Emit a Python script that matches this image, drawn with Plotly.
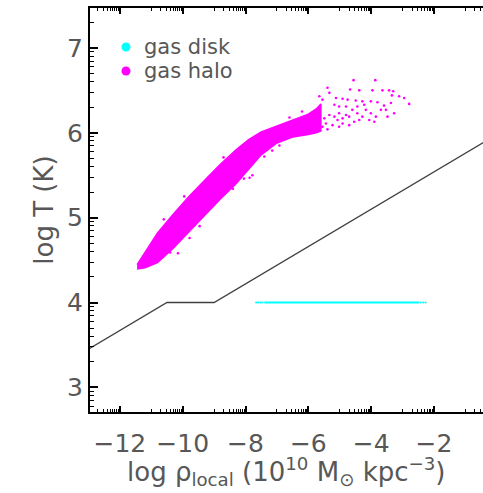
import numpy as np
import plotly.graph_objects as go

# Temperature-density relation: hot halo gas band (envelope), its sparse high-density tail,
# the disk gas sitting at the 10^4 K floor, and the star-formation threshold line.

# dense part of the halo band: log rho, upper / lower log T edge
band_logrho = [-11.45, -11.2, -10.8, -10.3, -9.8, -9.3, -8.8, -8.3, -7.9, -7.5, -7.0, -6.5, -6.0, -5.75, -5.6]
band_logT_hi = [4.445, 4.59, 4.82, 5.04, 5.25, 5.44, 5.63, 5.80, 5.92, 6.01, 6.08, 6.15, 6.22, 6.28, 6.34]
band_logT_lo = [4.395, 4.41, 4.47, 4.64, 4.83, 5.03, 5.22, 5.40, 5.57, 5.74, 5.88, 5.95, 5.98, 6.00, 6.02]

# stray halo particles just outside the band edges
edge_logrho = [-9.78, -9.46, -10.15, -7.87, -7.78, -7.40, -6.92, -7.15, -8.05,
               -10.60, -9.95, -8.70, -11.05, -6.60, -6.20, -9.20, -8.40, -10.40]
edge_logT = [4.76, 4.90, 4.58, 5.47, 5.50, 5.72, 5.85, 5.79, 5.46,
             4.98, 5.25, 5.71, 4.48, 6.18, 6.25, 5.46, 5.34, 4.59]

# individual halo particles in the sparse high-density tail
tail_logrho = [-4.56, -3.87, -5.39, -4.67, -4.38, -3.96, -3.64, -3.43, -3.30, -5.33,
               -3.34, -3.11, -2.95, -2.79, -5.65, -5.55, -5.12, -4.91, -4.75, -4.49,
               -4.28, -4.01, -3.80, -3.59, -3.69, -3.53, -3.27, -3.48, -3.85, -4.01,
               -4.17, -4.28, -4.06, -3.90, -4.44, -4.60, -4.80, -5.02, -5.17, -4.70,
               -4.54, -4.70, -4.91, -5.07, -5.23, -5.39, -5.02, -4.38, -4.80, -5.02,
               -5.33, -5.49, -5.55, -5.44, -5.65, -5.17, -4.91, -4.22, -4.44, -3.37]
tail_logT = [6.62, 6.62, 6.53, 6.51, 6.50, 6.50, 6.50, 6.50, 6.49, 6.47,
             6.44, 6.43, 6.41, 6.34, 6.43, 6.39, 6.41, 6.40, 6.39, 6.38,
             6.37, 6.37, 6.36, 6.32, 6.27, 6.27, 6.23, 6.19, 6.19, 6.23,
             6.27, 6.19, 6.15, 6.13, 6.23, 6.27, 6.31, 6.31, 6.33, 6.19,
             6.13, 6.09, 6.11, 6.15, 6.09, 6.04, 6.07, 6.15, 6.21, 6.23,
             6.21, 6.17, 6.07, 6.11, 6.15, 6.19, 6.17, 6.33, 6.31, 6.35]

# disk gas at the temperature floor
disk_logrho_run = [-7.40, -2.48]
disk_logrho_pts = [-7.66, -7.60, -7.53, -7.47, -2.42, -2.34, -2.27]
disk_logT = 4.0

# threshold line vertices
thr_logrho = [-13.0, -10.5, -9.0, 0.0]
thr_logT = [3.45, 4.0, 4.0, 5.98]

# axis ranges and tick values
x_range = [-12.95, -0.44]
y_range = [2.71, 7.47]
x_major = [-12, -10, -8, -6, -4, -2]
x_major_text = ["\u221212", "\u221210", "\u22128", "\u22126", "\u22124", "\u22122"]
y_major = [3, 4, 5, 6, 7]

legend_names = ["gas disk", "gas halo"]
x_title = "log \u03c1<sub>local</sub> (10<sup>10</sup> M<sub>\u2299</sub> kpc<sup>\u22123</sup>)"
y_title = "log T (K)"

MAG = "#FF00FF"
CYA = "#00FFFF"
TXT = "#575757"
FONT = "DejaVu Sans"

x_minor = [o + np.log10(k) for o in range(-15, 2, 2) for k in range(1, 10)]
x_minor = [v for v in x_minor if x_range[0] < v < x_range[1] and v not in x_major]
y_minor = [n + np.log10(k) for n in range(2, 8) for k in range(2, 10)]
y_minor = [v for v in y_minor if y_range[0] < v < y_range[1]]

fig = go.Figure()

# threshold line
fig.add_trace(go.Scatter(x=thr_logrho, y=thr_logT, mode="lines",
                         line=dict(color="#404040", width=1.3), showlegend=False,
                         hoverinfo="skip"))

# disk gas
fig.add_trace(go.Scatter(x=disk_logrho_run, y=[disk_logT] * len(disk_logrho_run), mode="lines",
                         line=dict(color=CYA, width=2), showlegend=False))
fig.add_trace(go.Scatter(x=disk_logrho_pts, y=[disk_logT] * len(disk_logrho_pts), mode="markers",
                         marker=dict(color=CYA, size=2.2), showlegend=False))

# halo gas: dense band
fig.add_trace(go.Scatter(x=band_logrho + band_logrho[::-1],
                         y=band_logT_hi + band_logT_lo[::-1],
                         mode="lines", fill="toself", fillcolor=MAG,
                         line=dict(color=MAG, width=1.5), showlegend=False))
# halo gas: stray particles and sparse tail
fig.add_trace(go.Scatter(x=edge_logrho + tail_logrho, y=edge_logT + tail_logT, mode="markers",
                         marker=dict(color=MAG, size=2.6), showlegend=False))

# legend drawn in the upper-left corner of the plot area
leg_x_sym, leg_x_txt = 0.0916, 0.1323
leg_y = [0.9035, 0.844]
for name, col, yy in zip(legend_names, [CYA, MAG], leg_y):
    fig.add_shape(type="circle", xref="paper", yref="paper", xsizemode="pixel",
                  ysizemode="pixel", xanchor=leg_x_sym, yanchor=yy,
                  x0=-4.5, x1=4.5, y0=-4.5, y1=4.5, fillcolor=col, line=dict(width=0))
    fig.add_annotation(x=leg_x_txt, y=yy, xref="paper", yref="paper", text=name,
                       showarrow=False, xanchor="left", yanchor="middle",
                       font=dict(family=FONT, size=21, color=TXT))

# x-axis title set below the tick labels
fig.add_annotation(x=0.5, y=-0.148, xref="paper", yref="paper", text=x_title,
                   showarrow=False, xanchor="center", yanchor="middle",
                   font=dict(family=FONT, size=26, color=TXT))

common = dict(showgrid=False, zeroline=False, showline=True, linecolor="black",
              linewidth=2, ticks="inside", tickcolor="black", tickwidth=1.5,
              tickfont=dict(family=FONT, size=25, color=TXT))

fig.update_layout(
    width=483, height=493,
    margin=dict(l=90, r=0, t=8, b=81),
    plot_bgcolor="white", paper_bgcolor="white",
    xaxis=dict(range=x_range, tickmode="array", tickvals=x_major, ticktext=x_major_text,
               ticklen=6, mirror="ticks", ticklabelstandoff=8,
               minor=dict(tickmode="array", tickvals=x_minor, ticklen=3, ticks="inside",
                          tickcolor="black", tickwidth=1.2),
               **common),
    yaxis=dict(range=y_range, tickmode="array", tickvals=y_major,
               ticklen=8, ticklabelstandoff=0,
               minor=dict(tickmode="array", tickvals=y_minor, ticklen=4, ticks="inside",
                          tickcolor="black", tickwidth=1.2),
               title=dict(text=y_title, font=dict(family=FONT, size=26, color=TXT), standoff=6),
               **common),
    showlegend=False,
)

fig.write_html("out.html")
